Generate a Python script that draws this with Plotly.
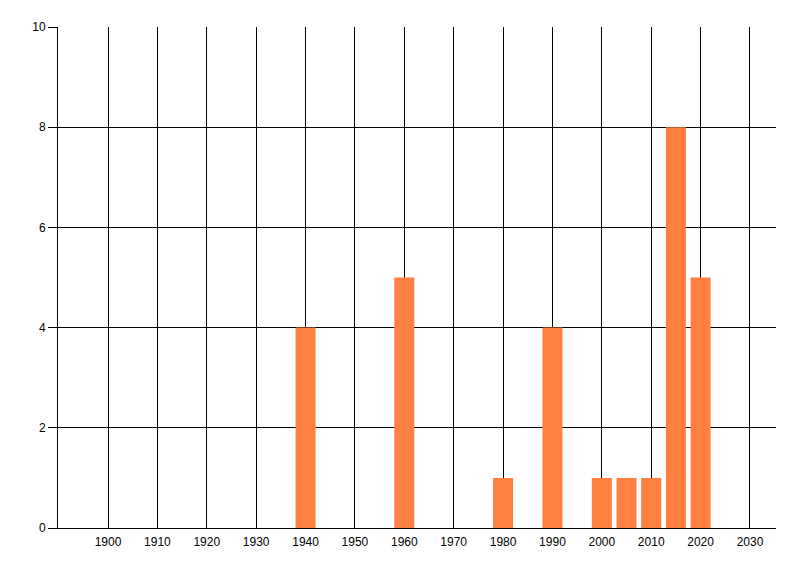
import plotly.graph_objects as go

years = [1940, 1960, 1980, 1990, 2000, 2005, 2010, 2015, 2020]
counts = [4, 5, 1, 4, 1, 1, 1, 8, 5]
x_ticks = list(range(1900, 2031, 10))
y_ticks = [0, 2, 4, 6, 8, 10]

fig = go.Figure()
fig.add_trace(go.Bar(x=years, y=counts, width=4.05, marker=dict(color="#FF8040", line=dict(width=0))))

# page body has an 8px margin, so offsets compensate
fig.update_layout(
    width=800, height=576,
    margin=dict(l=50, r=32, t=19, b=56, autoexpand=False),
    paper_bgcolor="white", plot_bgcolor="white",
    showlegend=False,
    font=dict(family="Liberation Sans, Arial, sans-serif", size=12, color="black"),
    xaxis=dict(range=[1889.87, 2035.27], tickvals=x_ticks, ticktext=[str(v) for v in x_ticks],
               showgrid=True, gridcolor="black", gridwidth=1, showline=True, linecolor="black",
               linewidth=1, ticks="", zeroline=False, automargin=False, layer="below traces",
               ticklabelstandoff=3),
    yaxis=dict(range=[0, 10], tickvals=y_ticks, showgrid=True, gridcolor="black", gridwidth=1,
               showline=True, linecolor="black", linewidth=1, ticks="outside", ticklen=9,
               tickcolor="black", zeroline=False, automargin=False),
)
fig.write_html("out.html")
